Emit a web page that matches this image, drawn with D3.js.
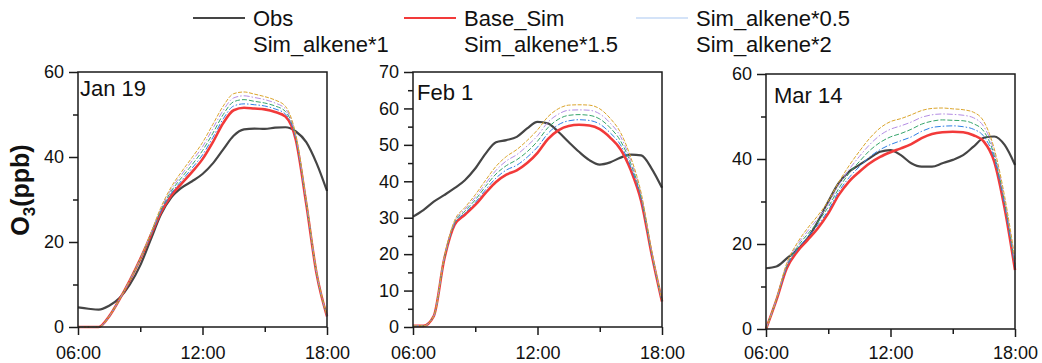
<!DOCTYPE html>
<html>
<head>
<meta charset="utf-8">
<script src="https://cdn.jsdelivr.net/npm/d3@7"></script>
<style>
    body { margin: 0; background: #fff; }
    svg { display: block; font-family: Arial, "Liberation Sans", sans-serif; }
</style>
</head>
<body>
<svg id="chart" width="1042" height="363"></svg>
<script>
// time axis, every half hour from 06:00 to 18:00
var hours = [6, 6.5, 7, 7.5, 8, 8.5, 9, 9.5, 10, 10.5, 11, 11.5, 12, 12.5, 13, 13.5, 14, 14.5, 15, 15.5, 16, 16.5, 17, 17.5, 18];
var seriesNames = ["Obs", "Base_Sim", "Sim_alkene*0.5", "Sim_alkene*1", "Sim_alkene*1.5", "Sim_alkene*2"];
var panelLabels = ["Jan 19", "Feb 1", "Mar 14"];
var xTicks = [6, 12, 18];
var xMinorTicks = [9, 15];

// Jan 19
var jan19Obs = [4.6, 4.3, 4.1, 5.0, 6.8, 10, 14.5, 20.5, 26.5, 30.5, 32.8, 34.3, 36, 38.5, 41.8, 45, 46.5, 46.7, 46.6, 46.9, 47, 46, 43.5, 38.5, 32];
var jan19Base = [0, 0, 0, 2.5, 6.5, 11, 16, 21.5, 27, 31, 33.8, 36.5, 39.5, 43.5, 48, 51, 51.6, 51.4, 51.2, 50.6, 49.5, 44, 29, 12.5, 2.5];
var jan19Alk05 = [0, 0, 0, 2.5, 6.5, 11, 16, 21.6, 27.3, 31.5, 34.5, 37.4, 40.5, 44.6, 49, 52, 52.5, 52.3, 52.0, 51.3, 50.1, 44.3, 29.2, 12.6, 2.5];
var jan19Alk1 = [0, 0, 0, 2.5, 6.5, 11, 16, 21.8, 27.6, 32, 35.2, 38.2, 41.5, 45.6, 50, 53, 53.5, 53.1, 52.7, 52, 50.7, 44.6, 29.4, 12.7, 2.6];
var jan19Alk15 = [0, 0, 0, 2.5, 6.5, 11, 16, 21.9, 27.9, 32.5, 35.9, 39.1, 42.4, 46.7, 51, 53.9, 54.4, 54, 53.5, 52.7, 51.3, 44.9, 29.6, 12.8, 2.6];
var jan19Alk2 = [0, 0, 0, 2.5, 6.5, 11, 16, 22, 28.2, 33, 36.6, 39.9, 43.4, 47.7, 52, 54.9, 55.3, 54.8, 54.2, 53.4, 51.9, 45.2, 29.8, 12.9, 2.7];

// Feb 1
var feb1Obs = [30.3, 32.1, 34.4, 36.2, 38.1, 40.3, 43.5, 47.6, 50.7, 51.3, 52.2, 54.5, 56.3, 55.9, 53.6, 50.8, 48.1, 45.8, 44.6, 45.2, 46.5, 47.3, 47.1, 43.5, 38.2];
var feb1Base = [0.3, 0.3, 3, 18.5, 28, 30.8, 33.5, 36.8, 39.8, 41.8, 43, 45, 47.8, 51.6, 54, 55.2, 55.5, 55.3, 54.3, 52, 48.8, 43, 34.5, 20, 7];
var feb1Alk05 = [0.3, 0.3, 3, 18.6, 28.3, 31.3, 34.2, 37.7, 40.9, 43.1, 44.4, 46.6, 49.4, 53.1, 55.5, 56.6, 56.9, 56.7, 55.7, 53.3, 50, 43.9, 35.1, 20.3, 7.1];
var feb1Alk1 = [0.3, 0.3, 3, 18.8, 28.6, 31.8, 34.9, 38.6, 42, 44.3, 45.9, 48.1, 51, 54.7, 57, 58.1, 58.3, 58.1, 57.1, 54.7, 51.1, 44.8, 35.6, 20.5, 7.2];
var feb1Alk15 = [0.3, 0.3, 3, 18.9, 28.9, 32.3, 35.6, 39.4, 43, 45.6, 47.3, 49.7, 52.5, 56.2, 58.4, 59.5, 59.6, 59.5, 58.5, 56, 52.3, 45.6, 36.2, 20.8, 7.2];
var feb1Alk2 = [0.3, 0.3, 3, 19, 29.2, 32.8, 36.3, 40.3, 44.1, 46.8, 48.7, 51.2, 54.1, 57.7, 59.9, 60.9, 61, 60.9, 59.9, 57.3, 53.4, 46.5, 36.7, 21, 7.3];

// Mar 14
var mar14Obs = [14.3, 14.7, 16.6, 18.6, 21.3, 25.3, 30, 34.3, 37, 38.6, 40.2, 41.7, 42.1, 40.9, 39, 38.2, 38.2, 39, 39.8, 40.9, 42.9, 45, 45.3, 43.3, 38.6];
var mar14Base = [0, 6.8, 14.3, 18.2, 20.9, 23.7, 27.2, 31.5, 34.7, 37, 39, 40.5, 41.6, 42.5, 43.5, 44.9, 45.9, 46.3, 46.4, 46.3, 45.6, 44.1, 39.4, 28.4, 13.9];
var mar14Alk05 = [0, 6.9, 14.6, 18.7, 21.6, 24.5, 27.9, 32.3, 35.6, 38.2, 40.5, 42.2, 43.4, 44.3, 45.2, 46.5, 47.4, 47.7, 47.8, 47.6, 47, 45.3, 40.2, 29.1, 14.5];
var mar14Alk1 = [0, 7, 14.9, 19.2, 22.3, 25.2, 28.7, 33, 36.6, 39.4, 42, 43.9, 45.2, 46, 47, 48.2, 48.9, 49.2, 49.1, 49, 48.3, 46.5, 40.9, 29.8, 15.2];
var mar14Alk15 = [0, 7, 15.2, 19.7, 23, 26, 29.4, 33.8, 37.5, 40.6, 43.4, 45.6, 47, 47.8, 48.7, 49.8, 50.4, 50.6, 50.5, 50.3, 49.7, 47.6, 41.7, 30.5, 15.8];
var mar14Alk2 = [0, 7.1, 15.5, 20.2, 23.7, 26.7, 30.1, 34.5, 38.4, 41.8, 44.9, 47.3, 48.8, 49.5, 50.4, 51.4, 51.9, 52, 51.8, 51.6, 51, 48.8, 42.4, 31.2, 16.4];

var jan19YTicks = [0, 20, 40, 60];
var jan19YMinor = [10, 30, 50];
var feb1YTicks = [0, 10, 20, 30, 40, 50, 60, 70];
var feb1YMinor = [5, 15, 25, 35, 45, 55, 65];
var mar14YTicks = [0, 20, 40, 60];
var mar14YMinor = [10, 30, 50];

var svg = d3.select("#chart");

// line look for each series (same order as seriesNames)
var styles = [
    { color: "#454545", width: 2.2, dash: null },
    { color: "#f23a3a", width: 2.6, dash: null },
    { color: "#2f7fe6", width: 1, dash: "6,2,1.5,2" },
    { color: "#36a56b", width: 1, dash: "5,2" },
    { color: "#b48de4", width: 1, dash: "6,2,1.5,2" },
    { color: "#dba52c", width: 1, dash: "4,1.5" }
];

var panels = [
    { left: 78, top: 72, w: 249, h: 255, yMax: 60, yTicks: jan19YTicks, yMinor: jan19YMinor,
      lx: 80, ly: 96, series: [jan19Obs, jan19Base, jan19Alk05, jan19Alk1, jan19Alk15, jan19Alk2] },
    { left: 413, top: 72, w: 249, h: 255, yMax: 70, yTicks: feb1YTicks, yMinor: feb1YMinor,
      lx: 417, ly: 100, series: [feb1Obs, feb1Base, feb1Alk05, feb1Alk1, feb1Alk15, feb1Alk2] },
    { left: 766, top: 74, w: 249, h: 255, yMax: 60, yTicks: mar14YTicks, yMinor: mar14YMinor,
      lx: 774, ly: 103, series: [mar14Obs, mar14Base, mar14Alk05, mar14Alk1, mar14Alk15, mar14Alk2] }
];

function timeFormat(d) {
    return (d < 10 ? "0" : "") + d + ":00";
}

panels.forEach(function (p, pi) {
    var x = d3.scaleLinear().domain([6, 18]).range([p.left, p.left + p.w]);
    var y = d3.scaleLinear().domain([0, p.yMax]).range([p.top + p.h, p.top]);
    var line = d3.line()
        .x(function (d, i) { return x(hours[i]); })
        .y(function (d) { return y(d); })
        .curve(d3.curveMonotoneX);

    var g = svg.append("g");

    // curves: obs first, then base, then the alkene runs on top
    p.series.forEach(function (vals, k) {
        g.append("path")
            .attr("d", line(vals))
            .attr("fill", "none")
            .attr("stroke", styles[k].color)
            .attr("stroke-width", styles[k].width)
            .attr("stroke-dasharray", styles[k].dash)
            .attr("stroke-linejoin", "round");
    });

    // frame
    g.append("rect")
        .attr("x", p.left)
        .attr("y", p.top)
        .attr("width", p.w)
        .attr("height", p.h)
        .attr("fill", "none")
        .attr("stroke", "#1a1a1a")
        .attr("stroke-width", 1.5);

    // x axis (label tops sit at the same height in every panel)
    var xPad = 346 - (p.top + p.h) - 8;
    var xAxis = g.append("g")
        .attr("transform", "translate(0," + (p.top + p.h) + ")")
        .call(d3.axisBottom(x).tickValues(xTicks).tickSize(8).tickSizeOuter(0).tickPadding(xPad).tickFormat(timeFormat));
    var xMinor = g.append("g")
        .attr("transform", "translate(0," + (p.top + p.h) + ")")
        .call(d3.axisBottom(x).tickValues(xMinorTicks).tickSize(5).tickSizeOuter(0).tickFormat(""));

    // y axis
    var yAxis = g.append("g")
        .attr("transform", "translate(" + p.left + ",0)")
        .call(d3.axisLeft(y).tickValues(p.yTicks).tickSize(9).tickSizeOuter(0).tickPadding(5).tickFormat(d3.format("d")));
    var yMinor = g.append("g")
        .attr("transform", "translate(" + p.left + ",0)")
        .call(d3.axisLeft(y).tickValues(p.yMinor).tickSize(5).tickSizeOuter(0).tickFormat(""));

    [xAxis, xMinor, yAxis, yMinor].forEach(function (a) {
        a.select(".domain").remove();
        a.selectAll("line").attr("stroke", "#1a1a1a").attr("stroke-width", 1.5);
        a.attr("font-size", 18).attr("font-family", "Arial, 'Liberation Sans', sans-serif");
        a.selectAll("text").attr("fill", "#111");
    });

    // panel label
    g.append("text")
        .attr("x", p.lx)
        .attr("y", p.ly)
        .attr("font-size", 22)
        .attr("fill", "#111")
        .text(panelLabels[pi]);
});

// y title O3(ppb)
var title = svg.append("text")
    .attr("transform", "translate(29,190) rotate(-90)")
    .attr("text-anchor", "middle")
    .attr("font-size", 25)
    .attr("font-weight", "bold")
    .attr("fill", "#111");
title.append("tspan").text("O");
title.append("tspan").attr("font-size", 17).attr("dy", 6).text("3");
title.append("tspan").attr("dy", -6).text("(ppb)");

// legend: 3 columns x 2 rows, only the first row shows its line sample
var legendColX = [193, 404, 636];
var legendRowY = [18, 44];
seriesNames.forEach(function (name, i) {
    var col = i % 3;
    var row = Math.floor(i / 3);
    if (row === 0) {
        svg.append("line")
            .attr("x1", legendColX[col])
            .attr("x2", legendColX[col] + 52)
            .attr("y1", legendRowY[row])
            .attr("y2", legendRowY[row])
            .attr("stroke", i === 2 ? "#a9c8f2" : styles[i].color)
            .attr("stroke-width", i === 2 ? 1.2 : 2);
    }
    svg.append("text")
        .attr("x", legendColX[col] + 60)
        .attr("y", legendRowY[row] + 8)
        .attr("font-size", 22)
        .attr("fill", "#111")
        .text(name);
});
</script>
</body>
</html>
